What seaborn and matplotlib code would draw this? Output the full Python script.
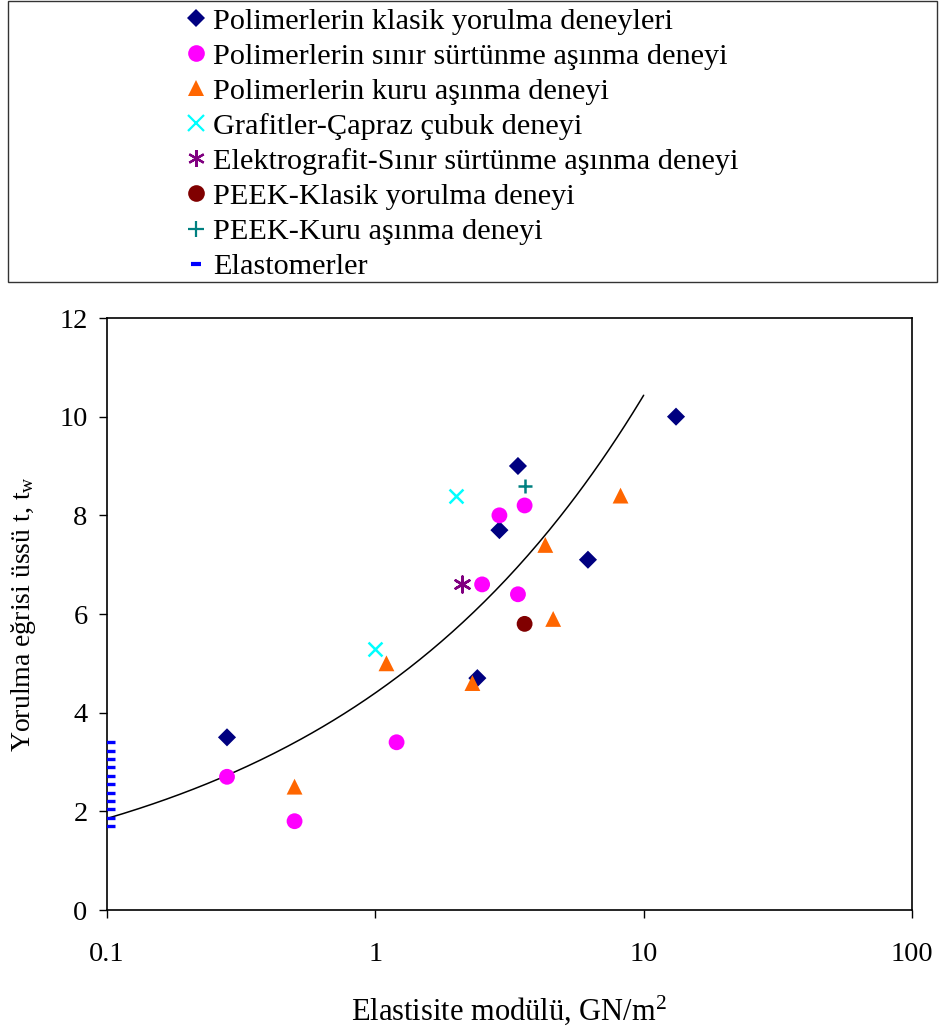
import numpy as np
import pandas as pd
import matplotlib
matplotlib.use("Agg")
import matplotlib.pyplot as plt
import seaborn as sns
from matplotlib.patches import Rectangle
from matplotlib.lines import Line2D

# ---- data ----
klasik_x = [0.28, 2.4, 2.9, 3.4, 6.2, 13.2]
klasik_y = [3.5, 4.7, 7.7, 9.0, 7.1, 10.0]
sinir_x = [0.28, 0.50, 1.2, 2.5, 2.9, 3.4, 3.6]
sinir_y = [2.7, 1.8, 3.4, 6.6, 8.0, 6.4, 8.2]
kuru_x = [0.50, 1.1, 2.3, 4.3, 4.6, 8.2]
kuru_y = [2.5, 5.0, 4.6, 7.4, 5.9, 8.4]
grafit_x = [1.0, 2.0]
grafit_y = [5.3, 8.4]
elektro_x = [2.1]
elektro_y = [6.6]
peek_klasik_x = [3.6]
peek_klasik_y = [5.8]
peek_kuru_x = [3.6]
peek_kuru_y = [8.6]
elast_x = [0.1] * 11
elast_y = [3.4, 3.23, 3.06, 2.89, 2.72, 2.55, 2.38, 2.21, 2.04, 1.87, 1.7]

# trend line (power fit y = a * E^b), drawn from 0.1 to 10
trend_a = 4.4
trend_b = 0.375
trend_range = [0.1, 10.0]

x_ticks = [0.1, 1, 10, 100]
x_ticklabels = ['0.1', '1', '10', '100']
y_ticks = [0, 2, 4, 6, 8, 10, 12]

labels = ["Polimerlerin klasik yorulma deneyleri",
          "Polimerlerin sınır sürtünme aşınma deneyi",
          "Polimerlerin kuru aşınma deneyi",
          "Grafitler-Çapraz çubuk deneyi",
          "Elektrografit-Sınır sürtünme aşınma deneyi",
          "PEEK-Klasik yorulma deneyi",
          "PEEK-Kuru aşınma deneyi",
          "Elastomerler"]

sns.set_theme(style="white")
plt.rcParams['font.family'] = ['Liberation Serif', 'DejaVu Serif']
plt.rcParams['mathtext.fontset'] = 'custom'
plt.rcParams['mathtext.rm'] = 'Liberation Serif'
plt.rcParams['mathtext.it'] = 'Liberation Serif:italic'
plt.rcParams['text.color'] = 'black'
plt.rcParams['axes.labelcolor'] = 'black'
plt.rcParams['xtick.color'] = 'black'
plt.rcParams['ytick.color'] = 'black'

fig = plt.figure(figsize=(9.42, 10.31), dpi=100)
ax = fig.add_axes([107/942, 1-910/1031, 805/942, 592/1031])

series = [
    (klasik_x, klasik_y, dict(marker='D', color='#000080', s=85, edgecolor='none')),
    (sinir_x, sinir_y, dict(marker='o', color='#FF00FF', s=130, edgecolor='none')),
    (kuru_x, kuru_y, dict(marker='^', color='#FF6600', s=130, edgecolor='none')),
    (grafit_x, grafit_y, dict(marker='x', color='#00FFFF', s=100, linewidth=1.8)),
    (elektro_x, elektro_y, dict(marker=(6, 2, 0), color='#800080', s=130, linewidth=1.8)),
    (peek_klasik_x, peek_klasik_y, dict(marker='o', color='#800000', s=130, edgecolor='none')),
    (peek_kuru_x, peek_kuru_y, dict(marker='+', color='#008080', s=110, linewidth=1.8)),
    (elast_x, elast_y, dict(marker='_', color='#0000FF', s=135, linewidth=2.4)),
]

for (xs, ys, kw), lab in zip(series, labels):
    df = pd.DataFrame({'x': xs, 'y': ys})
    sns.scatterplot(data=df, x='x', y='y', ax=ax, zorder=3, clip_on=True, **kw)

# trend curve
xt = np.logspace(np.log10(trend_range[0]), np.log10(trend_range[1]), 200)
yt = trend_a * xt ** trend_b
sns.lineplot(x=xt, y=yt, ax=ax, color='black', linewidth=1.1, zorder=2)

ax.set_xscale('log')
ax.set_xlim(0.1, 100)
ax.set_ylim(0, 12)
ax.set_xticks(x_ticks)
ax.set_xticklabels(x_ticklabels)
ax.set_yticks(y_ticks)
ax.minorticks_off()
ax.tick_params(axis='both', labelsize=20.5, direction='out', length=6, width=1,
               colors='black', bottom=True, left=True)
ax.tick_params(axis='x', pad=17)
ax.tick_params(axis='y', pad=8)
for sp in ax.spines.values():
    sp.set_color('black')
    sp.set_linewidth(1.2)
ax.set_xlabel('Elastisite modülü, GN/m$^2$', fontsize=22, labelpad=19)
ax.set_ylabel('Yorulma eğrisi üssü t, t$_\\mathrm{w}$', fontsize=20, labelpad=15)

# legend box
fig.patches.append(Rectangle((8/942, 1-282/1031), 929/942, 281/1031,
                             transform=fig.transFigure, fill=False,
                             edgecolor='#333333', linewidth=1.0))
leg_handles = []
for (xs, ys, kw), lab in zip(series, labels):
    m = kw['marker']
    if isinstance(m, tuple):
        ms, mew = 12, 1.6
    else:
        ms = {'D': 9, 'o': 12, '^': 12, 'x': 11, '+': 12, '_': 7}[m]
        mew = {'x': 1.6, '+': 1.6, '_': 3}.get(m, 0)
    leg_handles.append(Line2D([], [], linestyle='none', marker=m, color=kw['color'],
                              markersize=ms, markeredgewidth=mew))
fig.legend(handles=leg_handles, labels=labels, loc='upper left',
           bbox_to_anchor=(182/942, 1 - 6/1031), frameon=False, fontsize=21.8,
           handlelength=0.85, handletextpad=0.12, labelspacing=0.26,
           borderaxespad=0.0, borderpad=0.05)

fig.savefig('out.png', dpi=100)
